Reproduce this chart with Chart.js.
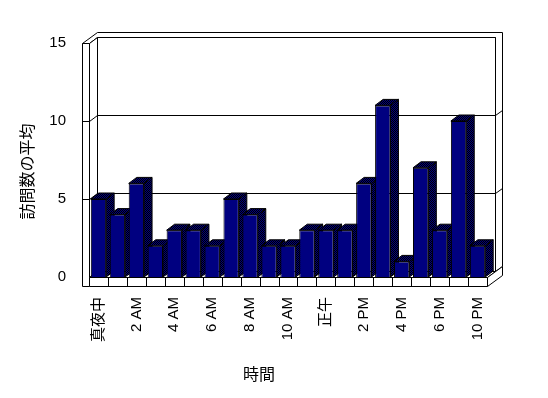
<!DOCTYPE html>
<html>
<head>
<meta charset="utf-8">
<script src="https://cdn.jsdelivr.net/npm/chart.js@4"></script>
<style>
  html, body { margin: 0; padding: 0; background: #fff; }
  #wrap { width: 548px; height: 398px; }
</style>
</head>
<body>
<div id="wrap"><canvas id="grafico"></canvas></div>
<script>
// Dados
const categorias = ["真夜中", "1 AM", "2 AM", "3 AM", "4 AM", "5 AM", "6 AM", "7 AM", "8 AM", "9 AM", "10 AM", "11 AM",
  "正午", "1 PM", "2 PM", "3 PM", "4 PM", "5 PM", "6 PM", "8 PM", "10 PM"];
const visitas = [5, 4, 6, 2, 3, 3, 2, 5, 4, 2, 2, 3, 3, 3, 6, 11, 1, 7, 3, 10, 2];
const ticksY = [0, 5, 10, 15];
const tituloX = "時間";
const tituloY = "訪問数の平均";

const FONTE = '"Liberation Sans", "Noto Sans CJK JP", sans-serif';
const DX = 8, DY = -6;      // profundidade 3D
const TX = 7, TY = -5;      // espessura da parede do fundo
const PAREDE = 7, PISO = 9; // espessura parede esquerda / piso

// 🔹 Padrão pontilhado (lado e topo das barras)
function criarPadrao() {
  const c = document.createElement("canvas");
  c.width = 2; c.height = 2;
  const g = c.getContext("2d");
  g.fillStyle = "#000080"; g.fillRect(0, 0, 2, 2);
  g.fillStyle = "#000000"; g.fillRect(0, 0, 1, 1); g.fillRect(1, 1, 1, 1);
  return g.createPattern(c, "repeat");
}
const padrao = criarPadrao();

function poligono(ctx, pts, fill) {
  ctx.beginPath();
  ctx.moveTo(pts[0][0], pts[0][1]);
  for (let i = 1; i < pts.length; i++) ctx.lineTo(pts[i][0], pts[i][1]);
  ctx.closePath();
  ctx.fillStyle = fill;
  ctx.fill();
  ctx.stroke();
}

function linha(ctx, pts) {
  ctx.beginPath();
  ctx.moveTo(pts[0][0], pts[0][1]);
  for (let i = 1; i < pts.length; i++) ctx.lineTo(pts[i][0], pts[i][1]);
  ctx.stroke();
}

// 🔹 Paredes, piso e lados das barras
const efeito3D = {
  id: "efeito3D",
  beforeDatasetsDraw(chart) {
    const { ctx, chartArea: a, scales: { x, y } } = chart;
    const L = Math.round(a.left) + 0.5, R = Math.round(a.right) + 0.5;
    const T = Math.round(a.top) + 0.5, B = Math.round(a.bottom) + 0.5;
    ctx.save();
    ctx.lineWidth = 1;
    ctx.strokeStyle = "#000";

    // parede do fundo (contorno) + topo da parede esquerda
    poligono(ctx, [[L - PAREDE, T], [L - PAREDE + DX + TX, T + DY + TY], [R + DX + TX, T + DY + TY],
      [R + DX + TX, B + DY + TY], [R + DX, B + DY], [R + DX, T + DY], [L + DX, T + DY], [L, T]], "#fff");
    // face da parede do fundo
    poligono(ctx, [[L + DX, T + DY], [R + DX, T + DY], [R + DX, B + DY], [L + DX, B + DY]], "#fff");
    // face interna da parede esquerda
    poligono(ctx, [[L, T], [L + DX, T + DY], [L + DX, B + DY], [L, B]], "#fff");
    // frente da parede esquerda
    poligono(ctx, [[L - PAREDE, T], [L, T], [L, B + PISO], [L - PAREDE, B + PISO]], "#fff");
    // piso
    poligono(ctx, [[L, B], [L + DX, B + DY], [R + DX, B + DY], [R, B]], "#fff");
    poligono(ctx, [[R, B], [R + DX + TX, B + DY + TY], [R + DX + TX, B + PISO + DY + TY], [R, B + PISO]], "#fff");
    poligono(ctx, [[L, B], [R, B], [R, B + PISO], [L, B + PISO]], "#fff");

    // marcas do piso
    for (let i = 1; i < categorias.length; i++) {
      const px = Math.round((x.getPixelForValue(i - 1) + x.getPixelForValue(i)) / 2) + 0.5;
      linha(ctx, [[px, B], [px, B + PISO]]);
    }

    // linhas de grade
    ticksY.slice(1, -1).forEach(v => {
      const py = Math.round(y.getPixelForValue(v)) + 0.5;
      linha(ctx, [[L - PAREDE, py], [L, py], [L + DX, py + DY], [R + DX, py + DY], [R + DX + TX, py + DY + TY]]);
    });

    // lados e topos das barras
    const meta = chart.getDatasetMeta(0);
    meta.data.forEach(b => {
      const { x: bx, y: topo, base, width } = b.getProps(["x", "y", "base", "width"], true);
      const xl = bx - width / 2, xr = bx + width / 2;
      poligono(ctx, [[xr, topo], [xr + DX, topo + DY], [xr + DX, base + DY], [xr, base]], padrao);
      poligono(ctx, [[xl, topo], [xl + DX, topo + DY], [xr + DX, topo + DY], [xr, topo]], padrao);
    });
    ctx.restore();
  },
  afterDraw(chart) {
    const { ctx } = chart;
    ctx.save();
    ctx.fillStyle = "#000";
    ctx.font = "16px " + FONTE;
    ctx.textAlign = "center";
    ctx.textBaseline = "middle";
    ctx.fillText(tituloX, 259, 376);
    ctx.translate(28.5, 171.5);
    ctx.rotate(-Math.PI / 2);
    ctx.fillText(tituloY, 0, 0);
    ctx.restore();
  }
};

new Chart(document.getElementById("grafico"), {
  type: "bar",
  data: {
    labels: categorias,
    datasets: [{
      data: visitas,
      backgroundColor: "#000080",
      borderColor: "#000000",
      borderWidth: 1,
      barPercentage: 0.81,
      categoryPercentage: 1
    }]
  },
  options: {
    responsive: true,
    maintainAspectRatio: false,
    animation: false,
    layout: { padding: { top: 43, right: 61, left: 0, bottom: 0 } },
    plugins: { legend: { display: false }, tooltip: { enabled: false } },
    scales: {
      x: {
        grid: { display: false, drawTicks: false },
        border: { display: false },
        afterFit: s => { s.height = 121; },
        ticks: {
          autoSkip: false,
          minRotation: 90,
          maxRotation: 90,
          padding: 20,
          color: "#000",
          font: { family: FONTE, size: 15 },
          callback: (v, i) => (i % 2 === 0 ? categorias[i] : "")
        }
      },
      y: {
        min: 0,
        max: 15,
        grid: { display: false, drawTicks: false },
        border: { display: false },
        afterFit: s => { s.width = 89; },
        afterBuildTicks: s => { s.ticks = ticksY.map(v => ({ value: v })); },
        ticks: {
          padding: 23,
          color: "#000",
          font: { family: FONTE, size: 15 }
        }
      }
    }
  },
  plugins: [efeito3D]
});
</script>
</body>
</html>
